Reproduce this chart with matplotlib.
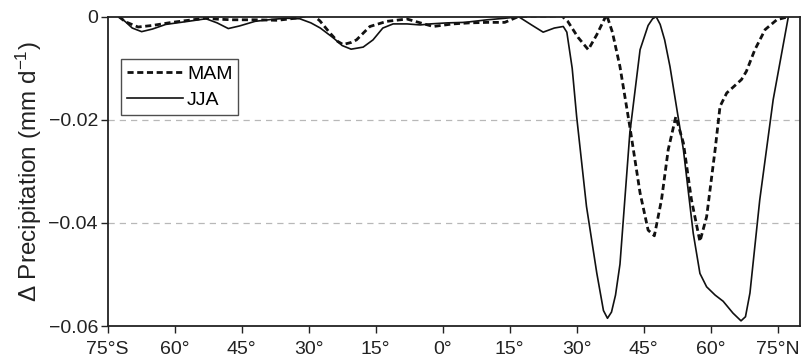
import matplotlib
matplotlib.use("Agg")
import matplotlib.pyplot as plt

plt.rcParams['font.family'] = ['Liberation Sans', 'DejaVu Sans']
plt.rcParams['mathtext.default'] = 'regular'

# Latitude (deg, negative = south) and precipitation change (mm/day)
jja_lat = [-72.5, -71, -69.5, -67.4, -65, -62, -57, -53, -50.5, -48, -45.5, -42, -38, -35,
           -32, -29.5, -27.4, -24.5, -22.5, -20.5, -17.8, -15.6, -13.4, -11.1, -8, -5, -2.8,
           1, 5, 10, 14, 17, 19.9, 22.5, 25, 27, 27.8, 29, 30, 32.2, 34.5, 36, 36.9, 37.8,
           38.7, 39.7, 41.9, 44.2, 46, 47, 47.8, 48.7, 49.7, 50.9, 53.9, 56.1, 57.6, 59.1, 61,
           62.8, 65, 66.8, 67.8, 68.8, 71, 74, 77.4]
jja_val = [0, -0.0010, -0.0022, -0.0029, -0.0024, -0.0015, -0.0009, -0.0004, -0.0012,
           -0.0023, -0.0018, -0.0009, -0.0005, -0.0003, -0.0004, -0.0012, -0.0022, -0.0041,
           -0.0056, -0.0063, -0.0059, -0.0045, -0.0022, -0.0014, -0.0014, -0.0016, -0.0014,
           -0.0012, -0.0011, -0.0006, -0.0003, 0, -0.0016, -0.0030, -0.0022, -0.0019,
           -0.0030, -0.0100, -0.0194, -0.0368, -0.0497, -0.0570, -0.0585, -0.0573, -0.0540,
           -0.0480, -0.0226, -0.0064, -0.0017, -0.0004, 0, -0.0015, -0.0045, -0.0097, -0.0258,
           -0.0420, -0.0498, -0.0524, -0.0540, -0.0552, -0.0575, -0.0590, -0.0582, -0.0536,
           -0.0355, -0.0161, 0]

mam_lat = [-72.5, -71, -68.2, -65, -60.6, -56, -53.2, -50, -47, -42, -37, -33, -30, -29,
           -27.5, -25.2, -23.5, -22.3, -20.5, -19.3, -16.3, -12.5, -8, -5, -2.1, 2.3, 6,
           10.1, 13.9, 16.9, 20, 24, 26.6, 28, 30.3, 32.6, 34.5, 36.7, 38, 39.7, 41.9, 44.2,
           46, 47.4, 49, 50.5, 52.2, 53.9, 55.7, 57.6, 59.1, 61, 62.1, 63.6, 66.9, 68, 69.9,
           72.2, 74.8, 77.4]
mam_val = [0, -0.0010, -0.0020, -0.0017, -0.0011, -0.0006, -0.0003, -0.0005, -0.0006,
           -0.0006, -0.0007, -0.0003, 0.0003, 0.0003, -0.0008, -0.0032, -0.0048, -0.0054,
           -0.0050, -0.0045, -0.0019, -0.0009, -0.00045, -0.0012, -0.0019, -0.0014, -0.0012,
           -0.0011, -0.0011, 0, 0.0001, 0.0001, 0.0002, -0.0009, -0.0040, -0.0064, -0.0035,
           0.0004, -0.0030, -0.0097, -0.0213, -0.0342, -0.0414, -0.0425, -0.0355, -0.0258,
           -0.0194, -0.0245, -0.0355, -0.0436, -0.0388, -0.0258, -0.0174, -0.0148, -0.0122,
           -0.0106, -0.0064, -0.0025, -0.0006, 0]

xticks = [-75, -60, -45, -30, -15, 0, 15, 30, 45, 60, 75]
xticklabels = ['75°S', '60°', '45°', '30°', '15°', '0°', '15°', '30°', '45°', '60°', '75°N']
yticks = [0, -0.02, -0.04, -0.06]
yticklabels = ['0', '\u22120.02', '\u22120.04', '\u22120.06']

fig = plt.figure(figsize=(8.11, 3.59), dpi=100)
ax = fig.add_axes([0.1328, 0.0919, 0.8536, 0.8616])

for y in [-0.02, -0.04]:
    ax.axhline(y, color='#b8b8b8', lw=0.9, ls=(0, (5, 4)), zorder=0)

ax.plot(mam_lat, mam_val, color='#111111', lw=2.0, ls=(0, (2.2, 1.3)), label='MAM')
ax.plot(jja_lat, jja_val, color='#111111', lw=1.2, ls='-', label='JJA')

ax.set_xlim(-75, 80)
ax.set_ylim(-0.06, 0)
ax.set_xticks(xticks)
ax.set_xticklabels(xticklabels, fontsize=14)
ax.set_yticks(yticks)
ax.set_yticklabels(yticklabels, fontsize=14)
ax.tick_params(direction='out', length=5, width=1.0, colors='#222222')
ax.tick_params(axis='x', pad=6)
ax.tick_params(axis='y', pad=2)
for s in ax.spines.values():
    s.set_linewidth(1.3)
    s.set_color('#222222')

ax.set_ylabel('\u0394 Precipitation (mm d$^{\u22121}$)', fontsize=17.5, color='#222222', labelpad=3)

leg = ax.legend(loc='upper left', bbox_to_anchor=(0.019, 0.863), frameon=True,
                fancybox=False, edgecolor='#222222', fontsize=14, handlelength=2.9,
                handletextpad=0.2, borderpad=0.3, labelspacing=0.45, borderaxespad=0)
leg.get_frame().set_linewidth(1.0)

fig.savefig('out.png', dpi=100)
